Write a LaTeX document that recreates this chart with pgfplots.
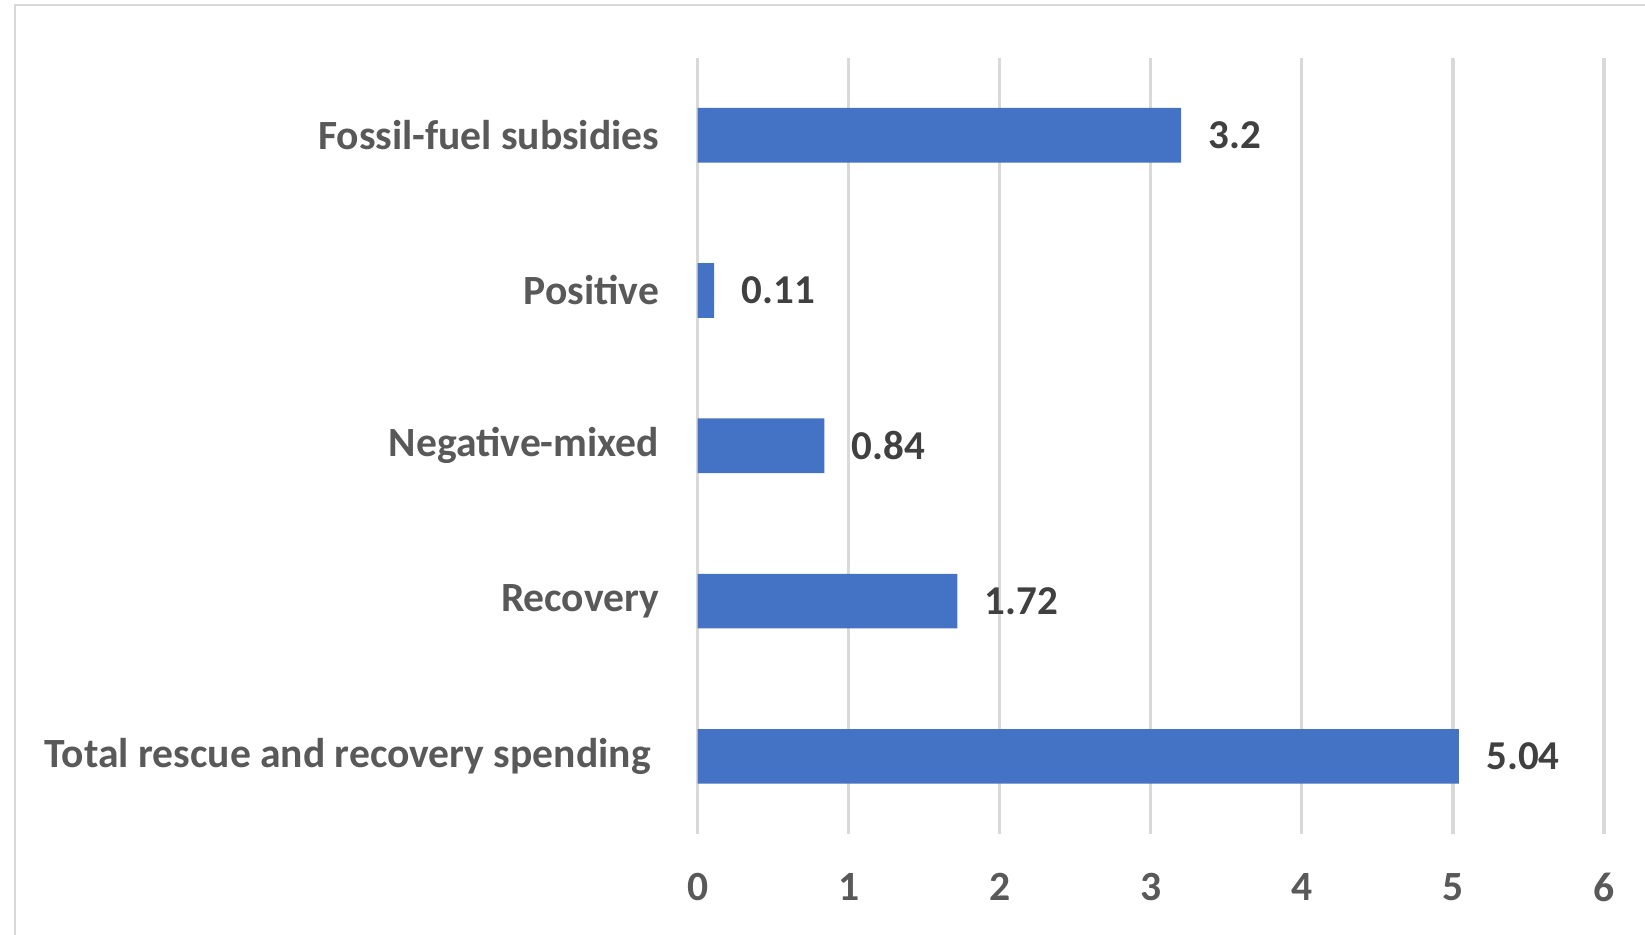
\documentclass[border=0pt]{standalone}
\usepackage{pgfplots}
\pgfplotsset{compat=1.18}
\usepackage{fontspec}
\setmainfont{Carlito}
\definecolor{barblue}{HTML}{4472C4}
\definecolor{gridgray}{HTML}{D9D9D9}
\definecolor{ticktext}{HTML}{595959}
\definecolor{valtext}{HTML}{404040}

\begin{document}
\begin{tikzpicture}
\path[use as bounding box] (0,0) rectangle (822.5pt,467.5pt);
% outer chart frame
\draw[gridgray, line width=1.2pt] (7.5pt,-20pt) -- (7.5pt,465pt) -- (850pt,465pt);
\begin{axis}[
  at={(348.8pt,50.5pt)}, anchor=south west,
  scale only axis,
  width=453.2pt, height=388.2pt,
  xbar, bar width=27.3pt,
  xmin=0, xmax=6, ymin=-0.5, ymax=4.5,
  xtick={0,1,2,3,4,5,6},
  ytick={0,1,2,3,4},
  yticklabels={Total rescue and recovery spending\kern4.2pt,Recovery,Negative-mixed,Positive,Fossil-fuel subsidies},
  axis line style={draw=none},
  major tick length=0pt,
  xmajorgrids, grid style={gridgray, line width=1.6pt},
  ticklabel style={font=\bfseries\fontsize{20.8}{22}\selectfont, text=ticktext},
  /pgf/number format/assume math mode=true,
  xticklabel style={anchor=north, inner sep=0pt, yshift=-19.4pt},
  yticklabel style={xshift=-15.7pt},
  nodes near coords,
  every node near coord/.append style={font=\bfseries\fontsize{20.5}{22}\selectfont, text=valtext, anchor=west, inner sep=0pt, xshift=13.5pt},
  point meta=explicit symbolic,
]
\addplot[fill=barblue, draw=none] coordinates {
  (5.04,0) [5.04]
  (1.72,1) [1.72]
  (0.84,2) [0.84]
  (0.11,3) [0.11]
  (3.2,4) [3.2]
};
\end{axis}
\end{tikzpicture}
\end{document}
